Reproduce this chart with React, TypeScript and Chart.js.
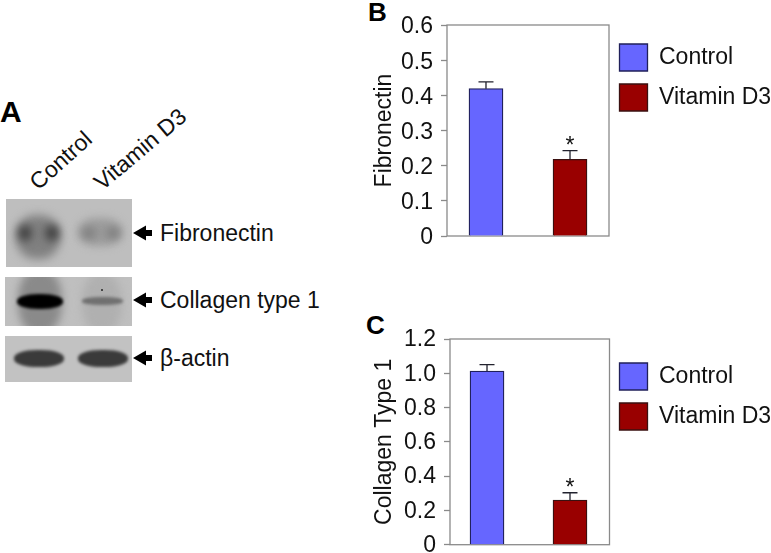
import React, { useEffect, useRef } from "react";
import { Chart, registerables } from "chart.js";

Chart.register(...registerables);

const FONT = '"Liberation Sans", Arial, sans-serif';
const TEXT = "#111111";

const categories = ["Control", "Vitamin D3"];
const barColors = ["#6666FF", "#990000"];
const barEdges = ["#20205A", "#3A1010"];
const fibronectinValues = [0.419, 0.218];
const fibronectinErrors = [0.019, 0.025];
const fibronectinTicks = ["0", "0.1", "0.2", "0.3", "0.4", "0.5", "0.6"];
const collagenValues = [1.013, 0.26];
const collagenErrors = [0.037, 0.043];
const collagenTicks = ["0", "0.2", "0.4", "0.6", "0.8", "1.0", "1.2"];
const significance = ["", "*"];
const blotLabels = ["Fibronectin", "Collagen type 1", "β-actin"];

const overlayPlugin = {
  id: "overlay",
  afterLayout(chart: any, _a: any, o: any) {
    const l = chart.legend;
    if (!l) return;
    const h = l.height;
    l.left = o.legendX;
    l.right = o.legendX + 170;
    l.top = o.legendY;
    l.bottom = o.legendY + Math.max(h, 150);
  },
  beforeDatasetsDraw(chart: any) {
    const { ctx, chartArea: a } = chart;
    ctx.save();
    ctx.strokeStyle = "#8A8A8A";
    ctx.lineWidth = 1.3;
    ctx.strokeRect(a.left, a.top, a.right - a.left, a.bottom - a.top);
    ctx.restore();
  },
  afterDatasetsDraw(chart: any) {
    const { ctx, scales } = chart;
    chart.data.datasets.forEach((ds: any, i: number) => {
      const bar = chart.getDatasetMeta(i).data[0];
      const v = ds.data[0].y;
      const top = scales.y.getPixelForValue(v + ds.errorValue);
      ctx.save();
      ctx.strokeStyle = "#22222E";
      ctx.lineWidth = 1.3;
      ctx.beginPath();
      ctx.moveTo(bar.x, bar.y);
      ctx.lineTo(bar.x, top);
      ctx.moveTo(bar.x - 7.5, top);
      ctx.lineTo(bar.x + 7.5, top);
      ctx.stroke();
      if (ds.mark) {
        ctx.fillStyle = TEXT;
        ctx.font = `23px ${FONT}`;
        ctx.textAlign = "center";
        ctx.textBaseline = "alphabetic";
        ctx.fillText(ds.mark, bar.x, top + 2.5);
      }
      ctx.restore();
    });
  },
};

type PanelProps = {
  title: string;
  values: number[];
  errors: number[];
  ticks: string[];
  yMax: number;
  yStep: number;
  xMin: number;
  xMax: number;
  left: number;
  top: number;
  width: number;
  height: number;
  axisWidth: number;
  padTop: number;
  padBottom: number;
  legendWidth: number;
  legendX: number;
  legendY: number;
  labelShift: number;
};

function Panel(p: PanelProps) {
  const ref = useRef<HTMLCanvasElement>(null);
  useEffect(() => {
    const chart = new Chart(ref.current as HTMLCanvasElement, {
      type: "bar",
      data: {
        datasets: categories.map((c, i) => ({
          label: c,
          data: [{ x: i + 1, y: p.values[i] }],
          errorValue: p.errors[i],
          mark: significance[i],
          backgroundColor: barColors[i],
          borderColor: barEdges[i],
          borderWidth: 1.3,
          barThickness: 34,
          grouped: false,
        })) as any,
      },
      options: {
        animation: false,
        responsive: false,
        layout: { padding: { top: p.padTop, bottom: p.padBottom, left: 0, right: 0 } },
        scales: {
          x: { type: "linear", display: false, offset: false, min: p.xMin, max: p.xMax },
          y: {
            min: 0,
            max: p.yMax,
            afterFit: (s: any) => {
              s.width = p.axisWidth;
            },
            border: { display: false },
            grid: {
              drawOnChartArea: false,
              drawTicks: true,
              tickLength: 6,
              tickColor: "#8A8A8A",
              tickWidth: 1.3,
            },
            ticks: {
              stepSize: p.yStep,
              padding: 8,
              labelOffset: p.labelShift,
              color: TEXT,
              font: { family: FONT, size: 23 },
              callback: (_v: any, i: number) => p.ticks[i],
            },
            title: {
              display: true,
              text: p.title,
              color: TEXT,
              font: { family: FONT, size: 23 },
              padding: { top: 11, bottom: 0 },
            },
          },
        },
        plugins: {
          tooltip: { enabled: false },
          legend: {
            position: "right",
            align: "start",
            maxWidth: p.legendWidth,
            labels: {
              boxWidth: 28,
              boxHeight: 27,
              padding: 13,
              color: TEXT,
              font: { family: FONT, size: 23 },
            },
          },
          overlay: { legendX: p.legendX, legendY: p.legendY },
        },
      } as any,
      plugins: [overlayPlugin],
    });
    return () => chart.destroy();
  }, []);
  return (
    <canvas
      ref={ref}
      width={p.width}
      height={p.height}
      style={{ position: "absolute", left: p.left, top: p.top, width: p.width, height: p.height }}
    />
  );
}

const abs = (left: number, top: number, extra: React.CSSProperties = {}): React.CSSProperties => ({
  position: "absolute",
  left,
  top,
  ...extra,
});

function Smear(x: number, y: number, w: number, h: number, color: string, blur: number) {
  return (
    <div
      key={`${x}-${y}-${w}-${h}`}
      style={{
        position: "absolute",
        left: x,
        top: y,
        width: w,
        height: h,
        background: color,
        borderRadius: "45%",
        filter: `blur(${blur}px)`,
      }}
    />
  );
}

function Blot(props: { left: number; top: number; width: number; height: number; bg: string; children: React.ReactNode }) {
  return (
    <div style={abs(props.left, props.top, { width: props.width, height: props.height, background: props.bg, overflow: "hidden" })}>
      {props.children}
    </div>
  );
}

function Arrow({ y }: { y: number }) {
  return (
    <svg style={abs(133, y - 9)} width={20} height={18}>
      <polygon points="0,9 13,1.5 13,6 19,6 19,12 13,12 13,16.5" fill="#000" />
    </svg>
  );
}

const labelStyle: React.CSSProperties = { font: `23px ${FONT}`, color: TEXT, whiteSpace: "nowrap", lineHeight: "26px" };
const headStyle = (size: number): React.CSSProperties => ({ font: `bold ${size}px ${FONT}`, color: "#000", lineHeight: 1 });

export default function App() {
  return (
    <div style={{ position: "absolute", left: 0, top: 0, width: 771, height: 553, overflow: "hidden", background: "#fff" }}>
      <div style={abs(0, 97, headStyle(30))}>A</div>
      <div style={abs(368, -1, headStyle(26))}>B</div>
      <div style={abs(366, 312, headStyle(26))}>C</div>

      <div style={abs(33, 172, { ...labelStyle, transformOrigin: "left center", transform: "rotate(-42deg)" })}>{categories[0]}</div>
      <div style={abs(97, 172, { ...labelStyle, transformOrigin: "left center", transform: "rotate(-40deg)" })}>{categories[1]}</div>

      <Blot left={6} top={199} width={126} height={68} bg="#BEBEBE">
        {Smear(10, 16, 44, 44, "#808080", 5)}
        {Smear(12, 26, 14, 16, "#444", 4)}
        {Smear(39, 26, 14, 16, "#444", 4)}
        {Smear(72, 19, 44, 28, "#9C9C9C", 4)}
        {Smear(76, 28, 14, 12, "#808080", 4)}
        {Smear(100, 28, 14, 12, "#808080", 4)}
      </Blot>
      <Blot left={5} top={277} width={127} height={49} bg="#BFBFBF">
        {Smear(13, -8, 44, 65, "#8A8A8A", 4)}
        {Smear(12, 17, 46, 15, "#000", 1.5)}
        {Smear(77, -4, 40, 60, "#B0B0B0", 4)}
        {Smear(77, 20, 41, 8, "#707070", 1.5)}
        {Smear(96, 12, 1.5, 1.5, "#333", 0)}
      </Blot>
      <Blot left={5} top={336} width={127} height={46} bg="#C2C2C2">
        {Smear(9, 14, 50, 17, "#3A3A3A", 1.5)}
        {Smear(73, 14, 50, 17, "#3A3A3A", 1.5)}
      </Blot>

      <Arrow y={233} />
      <Arrow y={300} />
      <Arrow y={358} />
      <div style={abs(160, 220, labelStyle)}>{blotLabels[0]}</div>
      <div style={abs(160, 287, labelStyle)}>{blotLabels[1]}</div>
      <div style={abs(160, 345, labelStyle)}>{blotLabels[2]}</div>

      <Panel
        title="Fibronectin"
        values={fibronectinValues}
        errors={fibronectinErrors}
        ticks={fibronectinTicks}
        yMax={0.6}
        yStep={0.1}
        xMin={0.536}
        xMax={2.464}
        left={360}
        top={0}
        width={411}
        height={260}
        axisWidth={87}
        padTop={25}
        padBottom={24}
        legendWidth={162}
        legendX={246.5}
        legendY={31}
        labelShift={2}
      />
      <Panel
        title="Collagen Type 1"
        values={collagenValues}
        errors={collagenErrors}
        ticks={collagenTicks}
        yMax={1.2}
        yStep={0.2}
        xMin={0.554}
        xMax={2.476}
        left={360}
        top={300}
        width={411}
        height={290}
        axisWidth={90}
        padTop={39}
        padBottom={45.3}
        legendWidth={161.5}
        legendX={246.5}
        legendY={50}
        labelShift={1}
      />
    </div>
  );
}
